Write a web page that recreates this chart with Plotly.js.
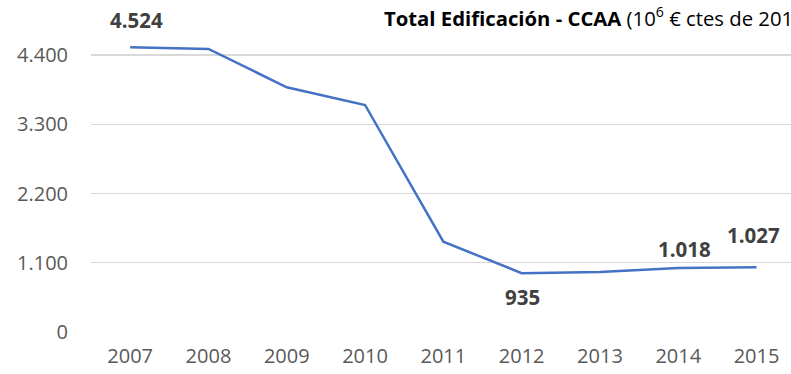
<!DOCTYPE html>
<html>
<head>
<meta charset="utf-8">
<script src="https://cdn.plot.ly/plotly-3.0.1.min.js"></script>
<style>html,body{margin:0;padding:0;background:#fff;overflow:hidden}</style>
</head>
<body>
<div id="chart" style="width:791px;height:374px"></div>
<script>
const years = ['2007','2008','2009','2010','2011','2012','2013','2014','2015'];
const values = [4524, 4497, 3887, 3606, 1434, 935, 955, 1018, 1027];
const yTicks = [0, 1100, 2200, 3300, 4400];
const yTickLabels = ['0', '1.100', '2.200', '3.300', '4.400'];
const labelYears = ['2007', '2012', '2014', '2015'];
const labelTexts = ['4.524', '935', '1.018', '1.027'];
const labelShifts = [[6, 27], [1, -24], [6, 19], [-3, 32]];
const titleBold = 'Total Edificación - CCAA';
const titleRest = ' (10<sup>6</sup> € ctes de 2015)';

const font = "'Open Sans', 'Noto Sans', sans-serif";

const annotations = labelYears.map((yr, i) => {
  const idx = years.indexOf(yr);
  return {
    x: idx, y: values[idx], xref: 'x', yref: 'y',
    text: '<b>' + labelTexts[i] + '</b>', showarrow: false,
    xanchor: 'center', yanchor: 'middle',
    xshift: labelShifts[i][0], yshift: labelShifts[i][1],
    font: {family: font, size: 20.5, color: '#404040'}
  };
});
annotations.push({
  xref: 'paper', yref: 'paper', x: 0.4157, y: 1, xanchor: 'left', yanchor: 'bottom',
  yshift: -14, showarrow: false, align: 'left',
  text: '<b>' + titleBold + '</b>' + titleRest,
  font: {family: font, size: 20.3, color: '#000000'}
});

Plotly.newPlot('chart', [{
  type: 'scatter', mode: 'lines', x: years, y: values,
  line: {color: '#4472C4', width: 2.5}, hoverinfo: 'skip'
}], {
  width: 791, height: 374,
  margin: {l: 91, r: 0, t: 20, b: 42},
  paper_bgcolor: '#ffffff', plot_bgcolor: '#ffffff',
  showlegend: false,
  xaxis: {
    type: 'category', range: [-0.5, 8.44], showgrid: false, zeroline: false,
    showline: false, ticks: '', ticklen: 0, ticklabelstandoff: 10,
    tickfont: {family: font, size: 20, color: '#595959'}
  },
  yaxis: {
    range: [0, 4956], tickvals: yTicks, ticktext: yTickLabels,
    showgrid: true, gridcolor: '#d9d9d9', gridwidth: 1.3, zeroline: false,
    showline: false, ticks: '', ticklabelstandoff: 22,
    tickfont: {family: font, size: 20, color: '#595959'}
  },
  annotations: annotations
}, {staticPlot: true});
</script>
</body>
</html>
